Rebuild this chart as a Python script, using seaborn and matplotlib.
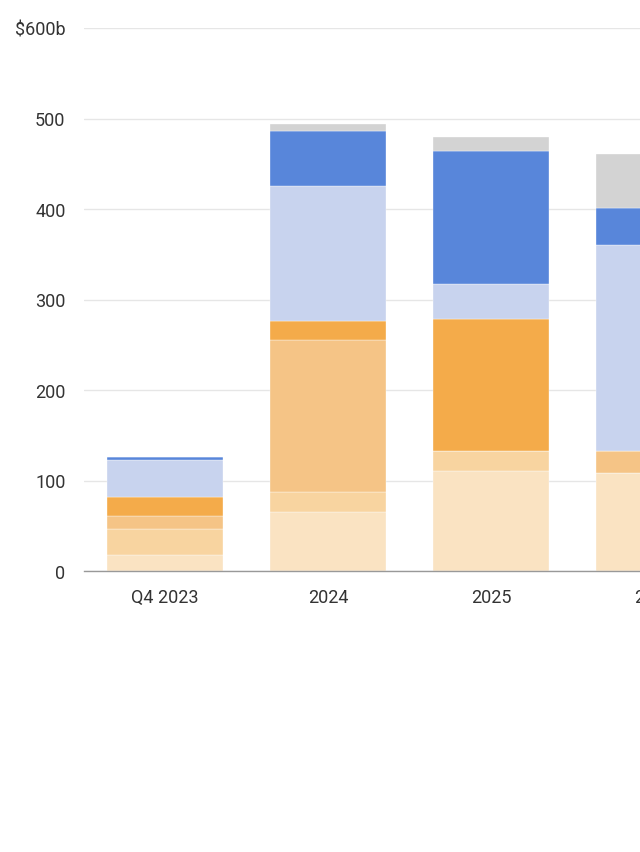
import matplotlib
matplotlib.use("Agg")
import matplotlib.pyplot as plt
import seaborn as sns
import pandas as pd
import numpy as np

categories = ["Q4 2023", "2024", "2025", "2026"]
s1 = [17.7, 65.0, 111.0, 108.4]
s2 = [28.8, 22.4, 22.0, 0.0]
s3 = [14.3, 168.1, 0.0, 24.6]
s4 = [21.1, 20.2, 145.0, 0.0]
s5 = [40.2, 149.9, 38.7, 227.0]
s6 = [4.2, 60.8, 147.1, 41.2]
s7 = [0.0, 7.0, 16.0, 60.1]
series = [s1, s2, s3, s4, s5, s6, s7]
colors = ["#FAE3C2", "#F8D4A0", "#F5C486", "#F4AB4A", "#C8D3EE", "#5886DA", "#D3D3D3"]
yticks = [0, 100, 200, 300, 400, 500, 600]
ytick_labels = ["0", "100", "200", "300", "400", "500", "$600b"]

sns.set_theme(style="white")
plt.rcParams["font.family"] = ["Roboto", "DejaVu Sans"]

fig = plt.figure(figsize=(6.4, 8.53), dpi=100)
ax = fig.add_axes([83.5 / 640, 281 / 853, 652 / 640, 543 / 853])

bottom = np.zeros(len(categories))
for vals, col in zip(series, colors):
    df = pd.DataFrame({"cat": categories, "val": vals})
    sns.barplot(data=df, x="cat", y="val", order=categories, color=col,
                width=0.715, bottom=bottom, ax=ax, edgecolor="#ffffff",
                linewidth=0.25, saturation=1, errorbar=None, zorder=3)
    bottom = bottom + np.array(vals)

ax.set_xlim(-0.5, 3.5)
ax.set_ylim(0, 600)
ax.set_yticks(yticks)
ax.set_yticklabels(ytick_labels)
ax.set_xlabel("")
ax.set_ylabel("")
ax.grid(axis="y", color="#e6e6e6", linewidth=1, zorder=0)
ax.set_axisbelow(True)
for side in ["top", "right", "left"]:
    ax.spines[side].set_visible(False)
ax.spines["bottom"].set_color("#999999")
ax.spines["bottom"].set_linewidth(1)
ax.spines["bottom"].set_zorder(5)
ax.tick_params(axis="y", length=0, pad=13, labelsize=13, labelcolor="#333333")
ax.tick_params(axis="x", length=0, pad=12.5, labelsize=13, labelcolor="#333333")

fig.savefig("out.png", dpi=100)
